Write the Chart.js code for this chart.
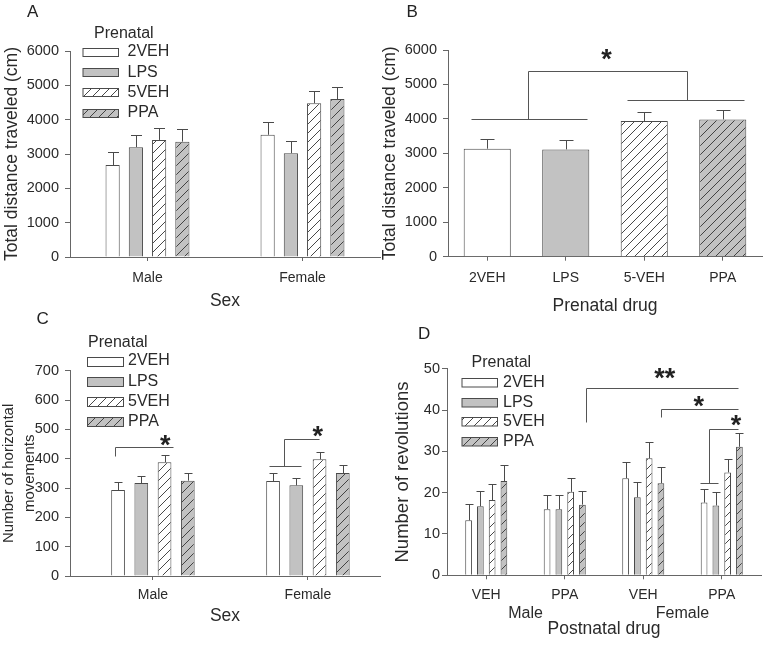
<!DOCTYPE html>
<html>
<head>
<meta charset="utf-8">
<script src="https://cdn.jsdelivr.net/npm/chart.js@4.4.1/dist/chart.umd.min.js"></script>
<style>
  html, body { margin:0; padding:0; background:#fff; }
  #fig { position:relative; width:766px; height:645px; overflow:hidden; background:#fff; }
  #fig canvas { position:absolute; left:0; top:0; }
</style>
</head>
<body>
<div id="fig">
  <canvas id="chartA" width="766" height="645"></canvas>
  <canvas id="chartB" width="766" height="645"></canvas>
  <canvas id="chartC" width="766" height="645"></canvas>
  <canvas id="chartD" width="766" height="645"></canvas>
</div>
<script>
// ================= DATA =================
const prenatalGroups = ['2VEH', 'LPS', '5VEH', 'PPA'];
const sexCategories = ['Male', 'Female'];
const bCategories = ['2VEH', 'LPS', '5-VEH', 'PPA'];
const dCategories = ['VEH', 'PPA', 'VEH', 'PPA'];
const dSexLabels = ['Male', 'Female'];

const distanceTicks = [0, 1000, 2000, 3000, 4000, 5000, 6000];
const movementTicks = [0, 100, 200, 300, 400, 500, 600, 700];
const revolutionTicks = [0, 10, 20, 30, 40, 50];

// Panel A: total distance traveled (cm), Male / Female
const aMean2VEH = [2680, 3560];
const aErr2VEH  = [370, 370];
const aMeanLPS  = [3200, 3025];
const aErrLPS   = [360, 340];
const aMean5VEH = [3410, 4480];
const aErr5VEH  = [360, 345];
const aMeanPPA  = [3360, 4600];
const aErrPPA   = [375, 365];

// Panel B: total distance traveled by prenatal drug
const bMean = [3135, 3115, 3940, 3985];
const bErr  = [270, 265, 260, 270];

// Panel C: number of horizontal movements, Male / Female
const cMean2VEH = [293, 324];
const cErr2VEH  = [27, 26];
const cMeanLPS  = [317, 309];
const cErrLPS   = [25, 25];
const cMean5VEH = [388, 398];
const cErr5VEH  = [24, 25];
const cMeanPPA  = [325, 351];
const cErrPPA   = [26, 27];

// Panel D: number of revolutions (Male VEH, Male PPA, Female VEH, Female PPA)
const dMean2VEH = [13.3, 16.0, 23.5, 17.6];
const dErr2VEH  = [3.9, 3.5, 3.8, 3.4];
const dMeanLPS  = [16.7, 16.0, 18.9, 16.9];
const dErrLPS   = [3.7, 3.4, 3.7, 3.3];
const dMean5VEH = [18.2, 20.2, 28.3, 24.9];
const dErr5VEH  = [4.0, 3.4, 3.9, 3.3];
const dMeanPPA  = [22.8, 17.1, 22.3, 31.1];
const dErrPPA   = [3.9, 3.4, 3.8, 3.4];

// significance brackets: [category index, value] points
const bBrackets = [
  [[-0.21, 4000], [1.27, 4000]],
  [[1.78, 4560], [3.27, 4560]],
  [[0.515, 4000], [0.515, 5380], [2.545, 5380], [2.545, 4560]]
];
const bStars = [{ x: 1.52, y: 5855, text: '*' }];

const cBrackets = [
  [[-0.245, 409], [-0.245, 440], [0.131, 440]],
  [[0.75, 376], [0.953, 376]],
  [[0.847, 376], [0.847, 466], [1.073, 466]]
];
const cStars = [{ x: 0.079, y: 461, text: '*' }, { x: 1.063, y: 492, text: '*' }];

const dBrackets = [
  [[1.271, 37.1], [1.271, 45.3], [3.211, 45.3]],
  [[2.226, 38.3], [2.226, 40.2], [3.203, 40.2]],
  [[2.72, 22.4], [2.956, 22.4]],
  [[2.841, 22.4], [2.841, 35.5], [3.203, 35.5]]
];
const dStars = [{ x: 2.274, y: 48.9, text: '**' }, { x: 2.707, y: 42.0, text: '*' }, { x: 3.181, y: 37.4, text: '*' }];

// ================= STYLE =================
const FONT = "'Liberation Sans', Arial, Helvetica, sans-serif";
Chart.defaults.font.family = FONT;
Chart.defaults.color = '#2a2a2a';
Chart.defaults.animation = false;
Chart.defaults.plugins.legend.display = false;
Chart.defaults.plugins.tooltip.enabled = false;
Chart.defaults.events = [];

const AXIS = '#666666';
const EDGE = '#4a4a4a';
const GRAY = '#c2c2c2';

function hatchPattern(ctx, bg) {
  const s = 9;
  const c = document.createElement('canvas');
  c.width = s; c.height = s;
  const g = c.getContext('2d');
  g.fillStyle = bg; g.fillRect(0, 0, s, s);
  g.strokeStyle = '#333333'; g.lineWidth = 0.9;
  g.beginPath();
  g.moveTo(0, s); g.lineTo(s, 0);
  g.moveTo(-s / 2, s / 2); g.lineTo(s / 2, -s / 2);
  g.moveTo(s / 2, s * 1.5); g.lineTo(s * 1.5, s / 2);
  g.stroke();
  return ctx.createPattern(c, 'repeat');
}
function fillsFor(ctx) {
  return ['#ffffff', GRAY, hatchPattern(ctx, '#ffffff'), hatchPattern(ctx, GRAY)];
}

function barSet(label, values, errs, fill, asXY) {
  return {
    label: label,
    data: asXY ? values.map((v, i) => ({ x: i, y: v })) : values,
    errors: errs,
    backgroundColor: fill,
    borderColor: EDGE,
    borderWidth: 1
  };
}

const figurePlugin = {
  id: 'figure',
  afterDatasetsDraw(chart, args, o) {
    const ctx = chart.ctx, xs = chart.scales.x, ys = chart.scales.y;
    ctx.save();
    // error bars (mean + error, upward)
    ctx.strokeStyle = EDGE; ctx.lineWidth = 1;
    chart.data.datasets.forEach((ds, di) => {
      chart.getDatasetMeta(di).data.forEach((bar, i) => {
        const d = ds.data[i];
        const v = (typeof d === 'object') ? d.y : d;
        const yt = Math.round(ys.getPixelForValue(v + ds.errors[i])) + 0.5;
        const x = Math.round(bar.x) + 0.5;
        ctx.beginPath();
        ctx.moveTo(x, bar.y); ctx.lineTo(x, yt);
        ctx.moveTo(x - o.cap / 2, yt); ctx.lineTo(x + o.cap / 2, yt);
        ctx.stroke();
      });
    });
    // brackets
    ctx.strokeStyle = '#555555'; ctx.lineWidth = 1;
    (o.brackets || []).forEach(path => {
      ctx.beginPath();
      path.forEach(([ix, v], k) => {
        const px = Math.round(xs.getPixelForValue(ix)) + 0.5;
        const py = Math.round(ys.getPixelForValue(v)) + 0.5;
        if (k) ctx.lineTo(px, py); else ctx.moveTo(px, py);
      });
      ctx.stroke();
    });
    // stars
    ctx.fillStyle = '#222222';
    ctx.font = 'bold 27px ' + FONT;
    ctx.textAlign = 'center';
    ctx.textBaseline = 'alphabetic';
    (o.stars || []).forEach(s => {
      const px = xs.getPixelForValue(s.x), py = ys.getPixelForValue(s.y);
      const m = ctx.measureText(s.text);
      const off = (m.actualBoundingBoxAscent - m.actualBoundingBoxDescent) / 2;
      ctx.fillText(s.text, px, py + off);
    });
    // legend
    if (o.legend) {
      const L = o.legend;
      ctx.font = '16px ' + FONT;
      ctx.fillStyle = '#2a2a2a';
      ctx.textAlign = 'left';
      ctx.textBaseline = 'middle';
      ctx.fillText(L.title, L.titleX, L.titleY);
      chart.data.datasets.forEach((ds, i) => {
        const cy = L.rowY + i * L.rowStep;
        const top = Math.round(cy - L.boxH / 2) + 0.5;
        ctx.fillStyle = ds.backgroundColor;
        ctx.fillRect(L.boxX + 0.5, top, L.boxW, L.boxH);
        ctx.strokeStyle = EDGE; ctx.lineWidth = 1;
        ctx.strokeRect(L.boxX + 0.5, top, L.boxW, L.boxH);
        ctx.fillStyle = '#2a2a2a';
        ctx.fillText(ds.label, L.textX, cy);
      });
    }
    // panel letter
    if (o.letter) {
      ctx.font = '17px ' + FONT;
      ctx.fillStyle = '#222222';
      ctx.textAlign = 'left';
      ctx.textBaseline = 'middle';
      ctx.fillText(o.letter.text, o.letter.x, o.letter.y);
    }
    ctx.restore();
  }
};

function yAxis(ticks, max, width, title, titleFont, titlePadTop, tickPad, lineHeight) {
  return {
    min: 0, max: max,
    afterBuildTicks: s => { s.ticks = ticks.map(v => ({ value: v })); },
    afterFit: s => { s.width = width; },
    ticks: { font: { size: 14.5 }, padding: tickPad, color: '#2a2a2a', callback: v => String(v) },
    grid: { drawOnChartArea: false, drawTicks: true, tickLength: 5, color: AXIS },
    border: { color: AXIS },
    title: {
      display: true, text: title,
      font: lineHeight ? { size: titleFont, lineHeight: lineHeight } : { size: titleFont },
      padding: { top: titlePadTop, bottom: 0 }, color: '#2a2a2a'
    }
  };
}

function xCategory(height, labelPad, title) {
  return {
    type: 'category', offset: true,
    afterFit: s => { s.height = height; },
    ticks: { font: { size: 14 }, padding: labelPad, color: '#2a2a2a', maxRotation: 0, autoSkip: false },
    grid: { offset: false, drawOnChartArea: false, drawTicks: true, tickLength: 4, color: AXIS },
    border: { color: AXIS },
    title: title ? { display: true, text: title, font: { size: 17.5 }, padding: { top: 0, bottom: 0 }, color: '#2a2a2a' } : { display: false }
  };
}

// ================= PANEL A =================
(function () {
  const ctx = document.getElementById('chartA').getContext('2d');
  const f = fillsFor(ctx);
  new Chart(ctx, {
    type: 'bar',
    data: {
      labels: sexCategories,
      datasets: [
        barSet(prenatalGroups[0], aMean2VEH, aErr2VEH, f[0]),
        barSet(prenatalGroups[1], aMeanLPS, aErrLPS, f[1]),
        barSet(prenatalGroups[2], aMean5VEH, aErr5VEH, f[2]),
        barSet(prenatalGroups[3], aMeanPPA, aErrPPA, f[3])
      ]
    },
    options: {
      responsive: false,
      layout: { padding: { left: 0, top: 51, right: 386, bottom: 333.8 } },
      datasets: { bar: { categoryPercentage: 0.6, barPercentage: 0.61 } },
      scales: {
        x: xCategory(54.2, 8.6, 'Sex'),
        y: yAxis(distanceTicks, 6000, 70, 'Total distance traveled (cm)', 17.5, 1.5, 6)
      },
      plugins: {
        figure: {
          cap: 11,
          letter: { text: 'A', x: 27, y: 12 },
          legend: { title: 'Prenatal', titleX: 94, titleY: 33.5, boxX: 82.5, boxW: 35.5, boxH: 8, rowY: 51.8, rowStep: 20.3, textX: 127.5 }
        }
      }
    },
    plugins: [figurePlugin]
  });
})();

// ================= PANEL B =================
(function () {
  const ctx = document.getElementById('chartB').getContext('2d');
  const f = fillsFor(ctx);
  new Chart(ctx, {
    type: 'bar',
    data: {
      labels: bCategories,
      datasets: [{
        label: 'Prenatal drug',
        data: bMean,
        errors: bErr,
        backgroundColor: f,
        borderColor: EDGE,
        borderWidth: 1
      }]
    },
    options: {
      responsive: false,
      layout: { padding: { left: 378, top: 50, right: 4, bottom: 328.5 } },
      datasets: { bar: { categoryPercentage: 1.0, barPercentage: 0.6 } },
      scales: {
        x: xCategory(59.8, 8.9, 'Prenatal drug'),
        y: yAxis(distanceTicks, 6000, 70, 'Total distance traveled (cm)', 17.5, 1.5, 6)
      },
      plugins: {
        figure: {
          cap: 14,
          brackets: bBrackets,
          stars: bStars,
          letter: { text: 'B', x: 406.5, y: 12.3 }
        }
      }
    },
    plugins: [figurePlugin]
  });
})();

// ================= PANEL C =================
(function () {
  const ctx = document.getElementById('chartC').getContext('2d');
  const f = fillsFor(ctx);
  const xs = xCategory(50.5, 7.1, 'Sex');
  xs.type = 'linear';
  xs.offset = false;
  xs.min = -0.535; xs.max = 1.465;
  xs.afterBuildTicks = s => { s.ticks = sexCategories.map((c, i) => ({ value: i })); };
  xs.ticks.callback = v => sexCategories[v];
  new Chart(ctx, {
    type: 'bar',
    data: {
      datasets: [
        barSet(prenatalGroups[0], cMean2VEH, cErr2VEH, f[0], true),
        barSet(prenatalGroups[1], cMeanLPS, cErrLPS, f[1], true),
        barSet(prenatalGroups[2], cMean5VEH, cErr5VEH, f[2], true),
        barSet(prenatalGroups[3], cMeanPPA, cErrPPA, f[3], true)
      ]
    },
    options: {
      responsive: false,
      layout: { padding: { left: 0, top: 370.7, right: 386, bottom: 18.5 } },
      datasets: { bar: { categoryPercentage: 0.6, barPercentage: 0.59 } },
      scales: {
        x: xs,
        y: yAxis(movementTicks, 700, 70, ['Number of horizontal', 'movements'], 15, -1.5, 6, '21px')
      },
      plugins: {
        figure: {
          cap: 8,
          brackets: cBrackets,
          stars: cStars,
          letter: { text: 'C', x: 36.5, y: 319 },
          legend: { title: 'Prenatal', titleX: 88, titleY: 342.5, boxX: 87, boxW: 36, boxH: 9, rowY: 361, rowStep: 20.2, textX: 128 }
        }
      }
    },
    plugins: [figurePlugin]
  });
})();

// ================= PANEL D =================
(function () {
  const ctx = document.getElementById('chartD').getContext('2d');
  const f = fillsFor(ctx);
  new Chart(ctx, {
    type: 'bar',
    data: {
      labels: dCategories,
      datasets: [
        barSet(prenatalGroups[0], dMean2VEH, dErr2VEH, f[0]),
        barSet(prenatalGroups[1], dMeanLPS, dErrLPS, f[1]),
        barSet(prenatalGroups[2], dMean5VEH, dErr5VEH, f[2]),
        barSet(prenatalGroups[3], dMeanPPA, dErrPPA, f[3])
      ]
    },
    options: {
      responsive: false,
      layout: { padding: { left: 390, top: 368.7, right: 5, bottom: 5.5 } },
      datasets: { bar: { categoryPercentage: 0.6, barPercentage: 0.57 } },
      scales: {
        x: Object.assign(xCategory(28, 7.3, null), { weight: 0 }),
        x2: {
          type: 'category', position: 'bottom', weight: 1, offset: true,
          labels: dSexLabels,
          afterFit: s => { s.height = 36.2; },
          ticks: { font: { size: 16 }, padding: 1.1, color: '#2a2a2a', maxRotation: 0 },
          grid: { display: false, drawTicks: false },
          border: { display: false },
          title: { display: true, text: 'Postnatal drug', font: { size: 17.5 }, padding: { top: 0, bottom: 0 }, color: '#2a2a2a' }
        },
        y: yAxis(revolutionTicks, 50, 57, 'Number of revolutions', 18.5, 1.9, 2)
      },
      plugins: {
        figure: {
          cap: 8,
          brackets: dBrackets,
          stars: dStars,
          letter: { text: 'D', x: 418, y: 334 },
          legend: { title: 'Prenatal', titleX: 471.5, titleY: 363, boxX: 461.5, boxW: 35.5, boxH: 8.5, rowY: 382.5, rowStep: 19.6, textX: 503 }
        }
      }
    },
    plugins: [figurePlugin]
  });
})();
</script>
</body>
</html>
